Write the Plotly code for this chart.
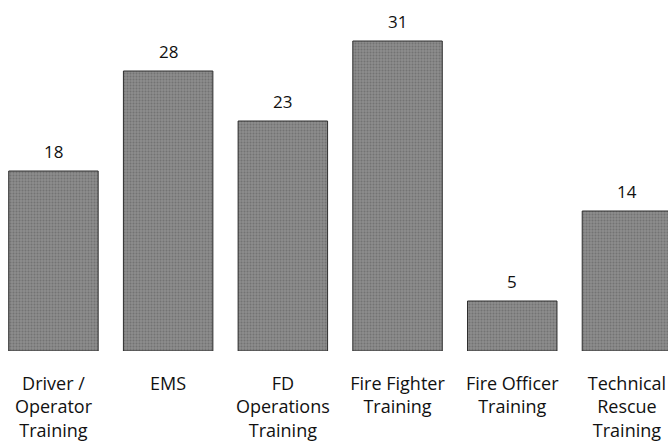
import plotly.graph_objects as go

categories = [
    "Driver /<br>Operator<br>Training",
    "EMS",
    "FD<br>Operations<br>Training",
    "Fire Fighter<br>Training",
    "Fire Officer<br>Training",
    "Technical<br>Rescue<br>Training",
]
counts = [18, 28, 23, 31, 5, 14]

FONT = "Open Sans"
x_idx = list(range(len(categories)))

fig = go.Figure(
    go.Bar(
        x=x_idx,
        y=counts,
        width=0.78,
        marker=dict(
            color="#828282",
            line=dict(color="#2e2e2e", width=1),
            pattern=dict(shape=".", fgcolor="#5a5a5a", bgcolor="#8c8c8c",
                         size=3, solidity=0.35),
        ),
        hoverinfo="skip",
    )
)

# value labels sitting just above each bar
for i, v in zip(x_idx, counts):
    fig.add_annotation(
        x=i, y=v, text=str(v), showarrow=False,
        yanchor="bottom", yshift=6,
        font=dict(family=FONT, size=17, color="#111111"),
    )

fig.update_layout(
    width=668, height=445,
    margin=dict(l=0, r=0, t=0, b=94),
    paper_bgcolor="white", plot_bgcolor="white",
    showlegend=False,
    font=dict(family=FONT, size=18, color="#111111"),
)
fig.update_xaxes(
    tickmode="array", tickvals=x_idx, ticktext=categories,
    range=[-0.466, 5.358], showgrid=False, zeroline=False, showline=False,
    ticks="", ticklabelstandoff=20,
)
fig.update_yaxes(range=[0, 35.1], visible=False)

fig.write_html("out.html")
